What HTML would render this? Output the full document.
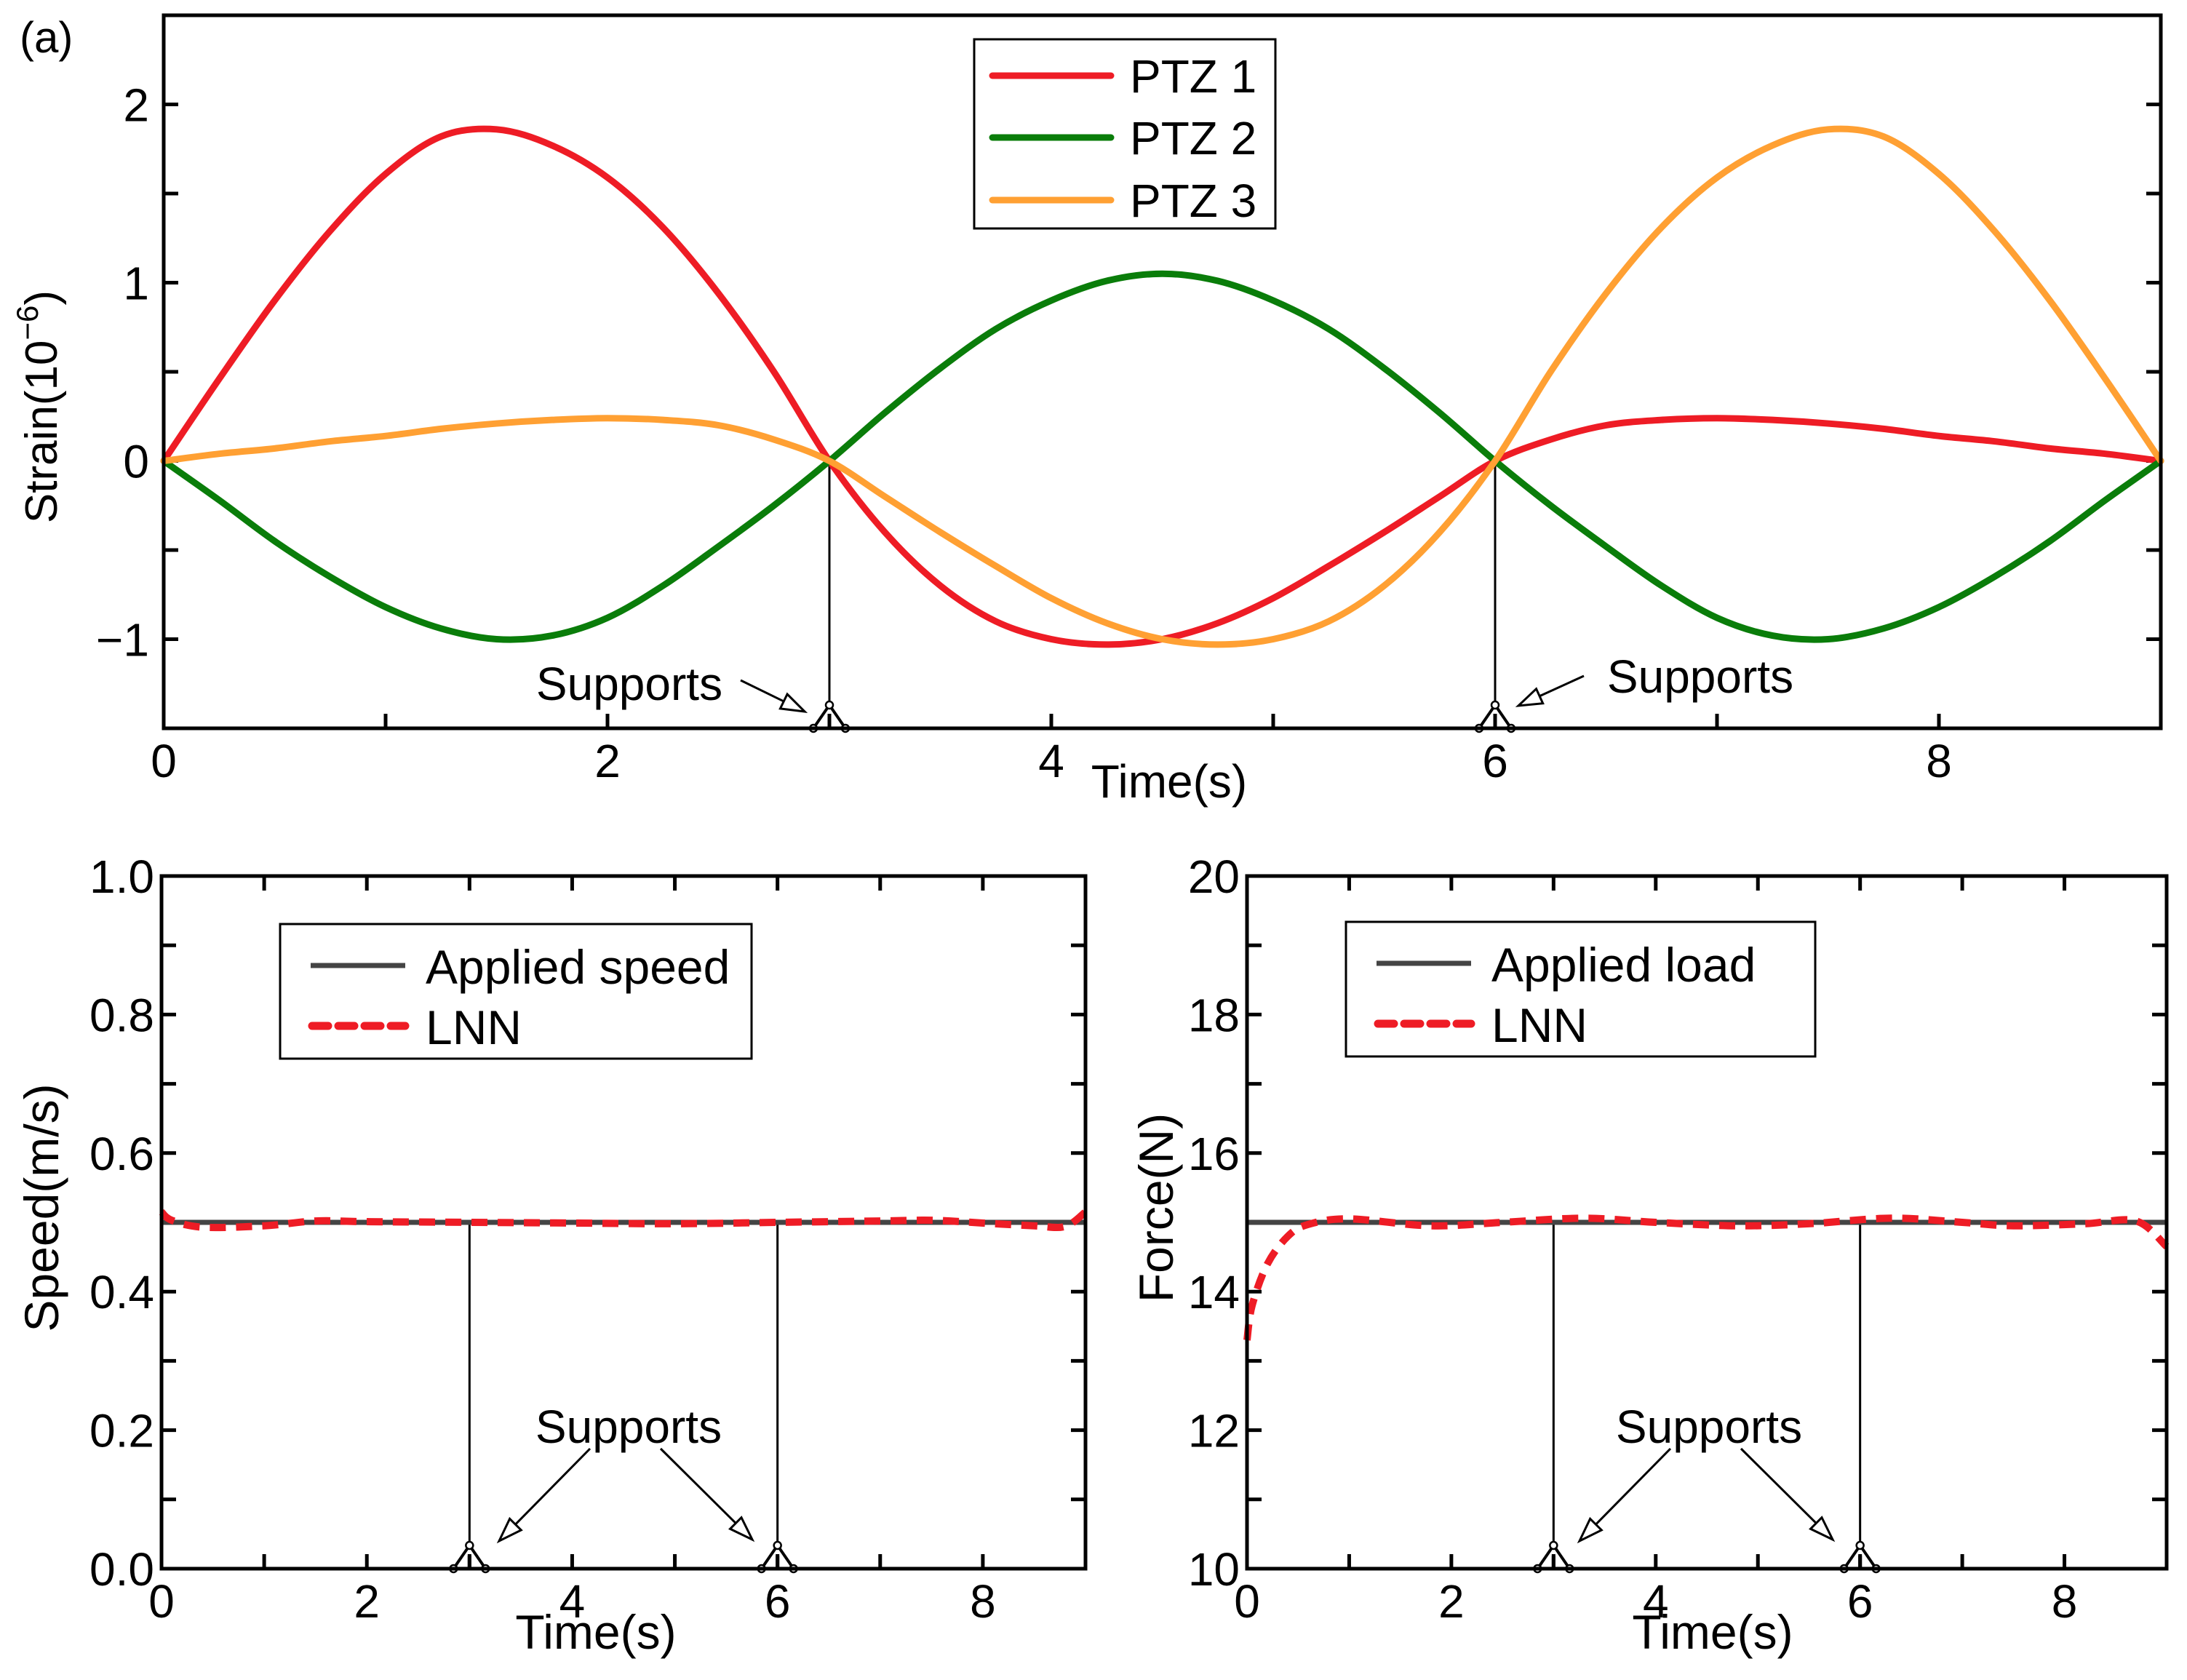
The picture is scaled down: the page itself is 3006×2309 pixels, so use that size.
<!DOCTYPE html>
<html><head><meta charset="utf-8"><style>
html,body{margin:0;padding:0;background:#fff;}
svg{display:block;font-family:"Liberation Sans",Arial,sans-serif;}
</style></head><body>
<svg id="fig" width="3006" height="2309" viewBox="0 0 3006 2309" xmlns="http://www.w3.org/2000/svg">
</svg>
<script>
// ---------- Data ----------
const strainX = [0,0.25,0.5,0.75,1,1.25,1.5,1.75,2,2.25,2.5,2.75,3,3.25,3.5,3.75,4,4.25,4.5,4.75,5,5.25,5.5,5.75,6,6.25,6.5,6.75,7,7.25,7.5,7.75,8,8.25,8.5,8.75,9];
const ptz1 = [0,0.46,0.90,1.29,1.61,1.82,1.86,1.77,1.59,1.31,0.94,0.50,0,-0.40,-0.70,-0.90,-1.00,-1.03,-1.00,-0.91,-0.77,-0.59,-0.40,-0.20,0,0.12,0.20,0.23,0.24,0.23,0.21,0.18,0.14,0.11,0.07,0.04,0];
const ptz2 = [0,-0.22,-0.45,-0.65,-0.82,-0.94,-1.00,-0.98,-0.88,-0.70,-0.48,-0.25,0,0.27,0.52,0.74,0.90,1.01,1.05,1.01,0.90,0.74,0.52,0.27,0,-0.25,-0.48,-0.70,-0.88,-0.98,-1.00,-0.94,-0.82,-0.65,-0.45,-0.22,0];
const ptz3 = [0,0.04,0.07,0.11,0.14,0.18,0.21,0.23,0.24,0.23,0.20,0.12,0,-0.20,-0.40,-0.59,-0.77,-0.91,-1.00,-1.03,-1.00,-0.90,-0.70,-0.40,0,0.50,0.94,1.31,1.59,1.77,1.86,1.82,1.61,1.29,0.90,0.46,0];
const speedX = [0,0.1,0.4,1,1.5,2,3,4,5,6,7,7.5,8,8.5,8.8,9];
const speedLNN = [0.515,0.503,0.493,0.495,0.502,0.501,0.500,0.499,0.498,0.500,0.502,0.503,0.499,0.495,0.494,0.515];
const appliedSpeed = 0.5;
const forceX = [0,0.05,0.2,0.4,0.6,1,1.8,2.5,3.3,4,4.8,5.5,6.3,7,7.5,8.2,8.7,9];
const forceLNN = [13.3,13.8,14.4,14.8,14.97,15.05,14.95,15.0,15.06,15.0,14.95,14.98,15.06,15.0,14.95,14.98,15.02,14.65];
const appliedLoad = 15;
const xTicks = [0,2,4,6,8];
const strainTicks = [-1,0,1,2];
const speedTicks = [0,0.2,0.4,0.6,0.8,1.0];
const forceTicks = [10,12,14,16,18,20];
const supportsX = [3,6];

const NS="http://www.w3.org/2000/svg";
const svg=document.getElementById('fig');
function el(tag,attrs,parent,text){const e=document.createElementNS(NS,tag);for(const k in attrs)e.setAttribute(k,attrs[k]);if(text!==undefined)e.textContent=text;(parent||svg).appendChild(e);return e;}
function smoothPath(pts){let d=`M${pts[0][0]},${pts[0][1]}`;for(let i=0;i<pts.length-1;i++){const p0=pts[Math.max(0,i-1)],p1=pts[i],p2=pts[i+1],p3=pts[Math.min(pts.length-1,i+2)];const c1=[p1[0]+(p2[0]-p0[0])/6,p1[1]+(p2[1]-p0[1])/6],c2=[p2[0]-(p3[0]-p1[0])/6,p2[1]-(p3[1]-p1[1])/6];d+=` C${c1[0]},${c1[1]} ${c2[0]},${c2[1]} ${p2[0]},${p2[1]}`;}return d;}

function makePanel(o){
  const g=el('g',{});
  
  
  const sx=v=>o.x0+(v-o.xmin)/(o.xmax-o.xmin)*(o.x1-o.x0);
  const sy=v=>o.y1-(v-o.ymin)/(o.ymax-o.ymin)*(o.y1-o.y0);
  return {g,sx,sy};
}
function support(g,x,ytop,ybase,name){
  const s=el('g',{},g);
  
  
  el('line',{x1:x,y1:ytop,x2:x,y2:ybase-32,stroke:'#000','stroke-width':3},s);
  el('path',{d:`M${x},${ybase-32} L${x-22},${ybase} M${x},${ybase-32} L${x+22},${ybase}`,stroke:'#000','stroke-width':4,fill:'none'},s);
  el('line',{x1:x,y1:ybase-18,x2:x,y2:ybase,stroke:'#000','stroke-width':5},s);
  [[x,ybase-32],[x-22,ybase],[x+22,ybase]].forEach(p=>el('circle',{cx:p[0],cy:p[1],r:5,fill:'#fff',stroke:'#000','stroke-width':2.5},s));
}
function arrow(g,x1,y1,x2,y2,name){
  const a=el('g',{},g);
  
  
  const dx=x2-x1,dy=y2-y1,L=Math.hypot(dx,dy),ux=dx/L,uy=dy/L,hl=32,hw=11;
  const bx=x2-ux*hl,by=y2-uy*hl;
  el('line',{x1:x1,y1:y1,x2:bx,y2:by,stroke:'#000','stroke-width':3},a);
  el('polygon',{points:`${x2},${y2} ${bx-uy*hw},${by+ux*hw} ${bx+uy*hw},${by-ux*hw}`,fill:'#fff',stroke:'#000','stroke-width':3},a);
}

// ---------- Top panel ----------
(function(){
  const o={name:'strain-chart',x0:225,x1:2970,y0:21,y1:1001,xmin:0,xmax:9,ymin:-1.5,ymax:2.5};
  const {g,sx,sy}=makePanel(o);
  for(let v=1;v<9;v++){const t=el('line',{x1:sx(v),y1:o.y1,x2:sx(v),y2:o.y1-20,stroke:'#000','stroke-width':5},g);}
  for(let v=-1;v<=2;v+=0.5){el('line',{x1:o.x0,y1:sy(v),x2:o.x0+20,y2:sy(v),stroke:'#000','stroke-width':5},g);el('line',{x1:o.x1,y1:sy(v),x2:o.x1-20,y2:sy(v),stroke:'#000','stroke-width':5},g);}
  xTicks.forEach(v=>{const t=el('text',{x:sx(v),y:1068,'font-size':64,'text-anchor':'middle'},g,String(v));});
  strainTicks.forEach(v=>{const t=el('text',{x:o.x0-20,y:sy(v)+23,'font-size':64,'text-anchor':'end'},g,v<0?'\u2212'+Math.abs(v):String(v));});
  supportsX.forEach((v,i)=>support(g,sx(v),sy(0),o.y1,'support-'+(i+1)));
  const series=[[ptz1,'#ee1c25','ptz1-line'],[ptz2,'#0a7d0a','ptz2-line'],[ptz3,'#ffa033','ptz3-line']];
  series.forEach(s=>{const p=el('path',{d:smoothPath(strainX.map((x,i)=>[sx(x),sy(s[0][i])])),stroke:s[1],'stroke-width':9,fill:'none','stroke-linejoin':'round','stroke-linecap':'round'},g);});
  const f=el('rect',{x:o.x0,y:o.y0,width:o.x1-o.x0,height:o.y1-o.y0,fill:'none',stroke:'#000','stroke-width':5},g);
  
  const t1=el('text',{x:865,y:962,'font-size':64,'text-anchor':'middle'},g,'Supports');
  arrow(g,1018,935,1106,978,'supports-arrow');
  const t2=el('text',{x:2337,y:952,'font-size':64,'text-anchor':'middle'},g,'Supports');
  arrow(g,2177,929,2087,970,'supports-arrow');
  const xt=el('text',{x:1607,y:1096,'font-size':64,'text-anchor':'middle'},g,'Time(s)');
  const yt=el('text',{x:0,y:0,'font-size':62,'text-anchor':'middle',transform:'translate(78,559) rotate(-90)'},g);
  
  el('tspan',{},yt,'Strain(10');el('tspan',{dy:-26,'font-size':42},yt,'\u22126');el('tspan',{dy:26},yt,')');
  const pl=el('text',{x:27,y:72,'font-size':60},g,'(a)');
  const lg=el('g',{},g);
  el('rect',{x:1339,y:54,width:414,height:260,fill:'#fff',stroke:'#000','stroke-width':3},lg);
  [['PTZ 1','#ee1c25',104],['PTZ 2','#0a7d0a',189],['PTZ 3','#ffa033',275]].forEach(r=>{
    const e=el('g',{},lg);
    el('line',{x1:1364,y1:r[2],x2:1527,y2:r[2],stroke:r[1],'stroke-width':9,'stroke-linecap':'round'},e);
    el('text',{x:1553,y:r[2]+23,'font-size':64},e,r[0]);
  });
})();

// ---------- Bottom panels ----------
function bottomPanel(o){
  const {g,sx,sy}=makePanel(o);
  for(let v=1;v<9;v++){el('line',{x1:sx(v),y1:o.y1,x2:sx(v),y2:o.y1-20,stroke:'#000','stroke-width':5},g);el('line',{x1:sx(v),y1:o.y0,x2:sx(v),y2:o.y0+20,stroke:'#000','stroke-width':5},g);}
  const st=(o.ymax-o.ymin)/10;
  for(let i=1;i<10;i++){const v=o.ymin+i*st;el('line',{x1:o.x0,y1:sy(v),x2:o.x0+20,y2:sy(v),stroke:'#000','stroke-width':5},g);el('line',{x1:o.x1,y1:sy(v),x2:o.x1-20,y2:sy(v),stroke:'#000','stroke-width':5},g);}
  xTicks.forEach(v=>{const t=el('text',{x:sx(v),y:o.y1+67,'font-size':64,'text-anchor':'middle'},g,String(v));});
  o.yticks.forEach(v=>{const t=el('text',{x:o.x0-10,y:sy(v)+23,'font-size':64,'text-anchor':'end'},g,o.fmt(v));});
  supportsX.forEach((v,i)=>support(g,sx(v),sy(o.applied),o.y1,'support-'+(i+1)));
  const ap=el('line',{x1:o.x0,y1:sy(o.applied),x2:o.x1,y2:sy(o.applied),stroke:'#444','stroke-width':7},g);
  
  const ln=el('path',{d:smoothPath(o.lx.map((x,i)=>[sx(x),sy(o.ly[i])])),stroke:'#ee1c25','stroke-width':10,fill:'none','stroke-dasharray':'22 14'},g);
  
  const f=el('rect',{x:o.x0,y:o.y0,width:o.x1-o.x0,height:o.y1-o.y0,fill:'none',stroke:'#000','stroke-width':5},g);
  
  const t=el('text',{x:o.supX,y:1983,'font-size':64,'text-anchor':'middle'},g,'Supports');
  arrow(g,o.supX-53,1991,o.supX-178,2118,'supports-arrow');
  arrow(g,o.supX+44,1991,o.supX+170,2116,'supports-arrow');
  const xt=el('text',{x:o.xtx,y:2266,'font-size':66,'text-anchor':'middle'},g,'Time(s)');
  const yt=el('text',{x:0,y:0,'font-size':66,'text-anchor':'middle',transform:`translate(${o.ylx},1660) rotate(-90)`},g,o.ytitle);
  
  const lg=el('g',{},g);
  el('rect',{x:o.lgx,y:o.lgy,width:o.lgw,height:185,fill:'#fff',stroke:'#000','stroke-width':3},lg);
  const e1=el('g',{},lg);
  el('line',{x1:o.lgx+42,y1:o.lgy+57,x2:o.lgx+172,y2:o.lgy+57,stroke:'#444','stroke-width':7},e1);
  el('text',{x:o.lgx+200,y:o.lgy+82,'font-size':66},e1,o.appliedLabel);
  const e2=el('g',{},lg);
  el('line',{x1:o.lgx+44,y1:o.lgy+140,x2:o.lgx+172,y2:o.lgy+140,stroke:'#ee1c25','stroke-width':11,'stroke-dasharray':'22 14','stroke-linecap':'round'},e2);
  el('text',{x:o.lgx+200,y:o.lgy+165,'font-size':66},e2,'LNN');
}
bottomPanel({name:'speed-chart',x0:222,x1:1492,y0:1204,y1:2156,xmin:0,xmax:9,ymin:0,ymax:1,yticks:speedTicks,fmt:v=>v.toFixed(1),applied:appliedSpeed,appliedName:'applied-speed-line',lx:speedX,ly:speedLNN,supX:864,ytitle:'Speed(m/s)',ylx:80,lgx:385,lgy:1270,lgw:648,appliedLabel:'Applied speed',xtx:819});
bottomPanel({name:'force-chart',x0:1714,x1:2978,y0:1204,y1:2156,xmin:0,xmax:9,ymin:10,ymax:20,yticks:forceTicks,fmt:v=>String(v),applied:appliedLoad,appliedName:'applied-load-line',lx:forceX,ly:forceLNN,supX:2349,ytitle:'Force(N)',ylx:1612,lgx:1850,lgy:1267,lgw:645,appliedLabel:'Applied load',xtx:2354});
</script>
</body></html>
